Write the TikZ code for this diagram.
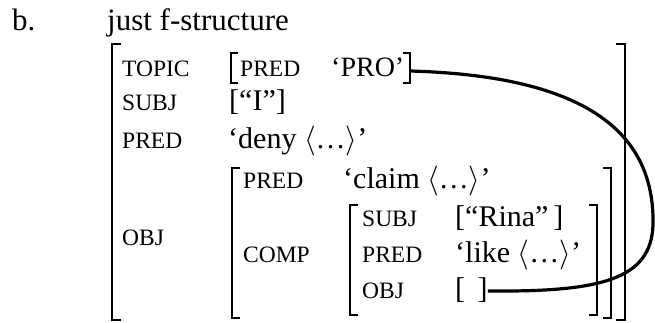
\RequirePackage{fix-cm}
\documentclass[tikz,border=0pt]{standalone}
\usepackage{fontspec}
\setmainfont{Liberation Serif}
\newcommand{\ang}[1]{$\langle$#1$\rangle$}
\tikzset{
  lab/.style={anchor=base west, inner sep=0pt, font=\fontsize{23.5}{28}\selectfont},
  val/.style={anchor=base west, inner sep=0pt, font=\fontsize{30}{36}\selectfont},
  head/.style={anchor=base west, inner sep=0pt, font=\fontsize{31}{37}\selectfont},
  brk/.style={line width=1.4pt},
  link/.style={line width=3.2pt}
}
\begin{document}
\begin{tikzpicture}[x=1pt,y=-1pt]
\useasboundingbox (0,0) rectangle (655,322);
% heading
\node[head] (b) at (12,30) {b.};
\node[head] (h) at (107,30) {just f-structure};
% outer matrix
\draw[brk] (121,44) -- (112,44) -- (112,320) -- (121,320);
\draw[brk] (616,44) -- (625,44) -- (625,320) -- (616,320);
\node[lab] (topic) at (122,76) {TOPIC};
\node[lab] (subj) at (122,110) {SUBJ};
\node[lab] (pred) at (122,148) {PRED};
\node[lab] (obj) at (122,245) {OBJ};
% topic value
\draw[brk] (238,53) -- (231,53) -- (231,83) -- (238,83);
\node[lab] (tpred) at (240,76) {PRED};
\node[val, font=\fontsize{28}{34}\selectfont] (pro) at (331,76) {‘PRO’};
\draw[brk] (403,53) -- (410,53) -- (410,83) -- (403,83);
\coordinate (proR) at (410,71);
% subj value
\node[val] (i) at (229,110) {[“I”]};
% pred value
\node[val] (deny) at (228,148) {‘deny \ang{…}’};
% obj value: claim matrix
\draw[brk] (240,168) -- (232,168) -- (232,318) -- (240,318);
\draw[brk] (603,168) -- (611,168) -- (611,318) -- (603,318);
\node[lab] (cpred) at (243,188) {PRED};
\node[val] (claim) at (343,188) {‘claim \ang{…}’};
\node[lab] (comp) at (243,262) {COMP};
% comp matrix
\draw[brk] (358,205) -- (350,205) -- (350,315) -- (358,315);
\draw[brk] (589,205) -- (597,205) -- (597,315) -- (589,315);
\node[lab] (csubj) at (362,226) {SUBJ};
\node[val] (rina) at (455,226) {[“Rina”\,]};
\node[lab] (cpred2) at (362,262) {PRED};
\node[val] (like) at (455,262) {‘like \ang{…}’};
\node[lab] (cobj) at (362,298) {OBJ};
\node[val] (empty) at (455,298) {[\ \,]};
% link
\draw[link] (proR) .. controls (590,76) and (655,135) .. (653,225)
  .. controls (651,280) and (600,292) .. (empty.east |- 0,291);
\end{tikzpicture}
\end{document}
